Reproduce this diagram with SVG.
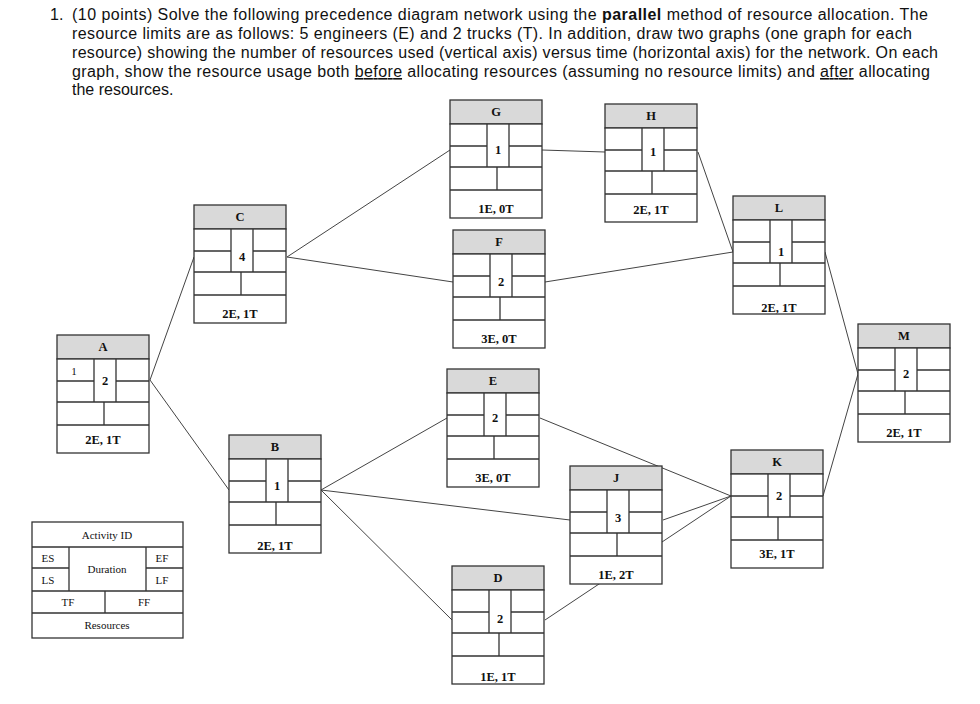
<svg xmlns="http://www.w3.org/2000/svg" width="980" height="704" viewBox="0 0 980 704">
<defs>
<style>
.t{font-family:"Liberation Sans",Arial,sans-serif;font-size:16px;fill:#111}
.b{stroke:#333;stroke-width:1.3;fill:#fff}
.h{stroke:#333;stroke-width:1.3;fill:#d9d9d9}
.l{stroke:#333;stroke-width:1.3;fill:none}
.n{font-family:"Liberation Serif","Times New Roman",serif;font-size:12.5px;font-weight:bold;fill:#111;text-anchor:middle}
.s{font-family:"Liberation Serif","Times New Roman",serif;font-size:11px;fill:#111;text-anchor:middle}
.c{stroke:#444;stroke-width:1;fill:none}
</style>
<g id="nb">
<rect class="h" x="0" y="0" width="92" height="24"/>
<rect class="b" x="0" y="24" width="92" height="94"/>
<path class="l" d="M0 46H37M59 46H92M37 24V67M59 24V67M0 67H92M0 90H92M47 67V90"/>
</g>
</defs>
<g class="t">
<text x="50" y="20">1.</text>
<text x="72" y="20" textLength="856" lengthAdjust="spacing">(10 points) Solve the following precedence diagram network using the <tspan font-weight="bold">parallel</tspan> method of resource allocation. The</text>
<text x="72" y="39" textLength="840" lengthAdjust="spacing">resource limits are as follows: 5 engineers (E) and 2 trucks (T). In addition, draw two graphs (one graph for each</text>
<text x="72" y="58" textLength="866" lengthAdjust="spacing">resource) showing the number of resources used (vertical axis) versus time (horizontal axis) for the network. On each</text>
<text x="72" y="77" textLength="858" lengthAdjust="spacing">graph, show the resource usage both <tspan text-decoration="underline">before</tspan> allocating resources (assuming no resource limits) and <tspan text-decoration="underline">after</tspan> allocating</text>
<text x="72" y="95">the resources.</text>
</g>
<g id="connectors">
<path class="c" d="M150 380L194 257M150 380L229 490M287 257L450 150M287 257L453 282M542 150L605 152M698 152L733 252M545 282L733 252M825 252L858 374M823 496L858 374M321 490L447 418M321 490L570 520M321 490L452 620M540 418L731 496M663 520L731 496M545 620L731 496"/>
</g>
<g id="A" transform="translate(57,335)"><use href="#nb"/><text class="n" x="46" y="16">A</text><text class="s" x="17" y="40" font-size="10">1</text><text class="n" x="48" y="50">2</text><text class="n" x="46" y="109">2E, 1T</text></g>
<g id="C" transform="translate(194,205)"><use href="#nb"/><text class="n" x="46" y="16">C</text><text class="n" x="48" y="56">4</text><text class="n" x="46" y="113">2E, 1T</text></g>
<g id="G" transform="translate(450,100)"><use href="#nb"/><text class="n" x="46" y="16">G</text><text class="n" x="48" y="54">1</text><text class="n" x="46" y="113">1E, 0T</text></g>
<g id="H" transform="translate(605,104)"><use href="#nb"/><text class="n" x="46" y="16">H</text><text class="n" x="48" y="52">1</text><text class="n" x="46" y="110">2E, 1T</text></g>
<g id="F" transform="translate(453,230)"><use href="#nb"/><text class="n" x="46" y="16">F</text><text class="n" x="48" y="56">2</text><text class="n" x="46" y="113">3E, 0T</text></g>
<g id="L" transform="translate(733,196)"><use href="#nb"/><text class="n" x="46" y="16">L</text><text class="n" x="48" y="60">1</text><text class="n" x="46" y="116">2E, 1T</text></g>
<g id="M" transform="translate(858,324)"><use href="#nb"/><text class="n" x="46" y="16">M</text><text class="n" x="48" y="54">2</text><text class="n" x="46" y="113">2E, 1T</text></g>
<g id="E" transform="translate(447,369)"><use href="#nb"/><text class="n" x="46" y="16">E</text><text class="n" x="48" y="53">2</text><text class="n" x="46" y="113">3E, 0T</text></g>
<g id="B" transform="translate(229,435)"><use href="#nb"/><text class="n" x="46" y="16">B</text><text class="n" x="48" y="55">1</text><text class="n" x="46" y="115">2E, 1T</text></g>
<g id="J" transform="translate(570,466)"><use href="#nb"/><text class="n" x="46" y="16">J</text><text class="n" x="48" y="56">3</text><text class="n" x="46" y="113">1E, 2T</text></g>
<g id="K" transform="translate(731,450)"><use href="#nb"/><text class="n" x="46" y="16">K</text><text class="n" x="48" y="50">2</text><text class="n" x="46" y="108">3E, 1T</text></g>
<g id="D" transform="translate(452,566)"><use href="#nb"/><text class="n" x="46" y="16">D</text><text class="n" x="48" y="57">2</text><text class="n" x="46" y="115">1E, 1T</text></g>
<g id="legend">
<rect class="b" x="32" y="522" width="151" height="116"/>
<path class="l" d="M32 547H183M32 568H69M146 568H183M69 547V591M146 547V591M32 591H183M32 613H183M105 591V613"/>
<text class="s" x="107" y="539">Activity ID</text>
<text class="s" x="48" y="562">ES</text><text class="s" x="48" y="584">LS</text>
<text class="s" x="162" y="562">EF</text><text class="s" x="162" y="584">LF</text>
<text class="s" x="107" y="573">Duration</text>
<text class="s" x="68" y="606">TF</text><text class="s" x="144" y="606">FF</text>
<text class="s" x="107" y="629">Resources</text>
</g>
</svg>
